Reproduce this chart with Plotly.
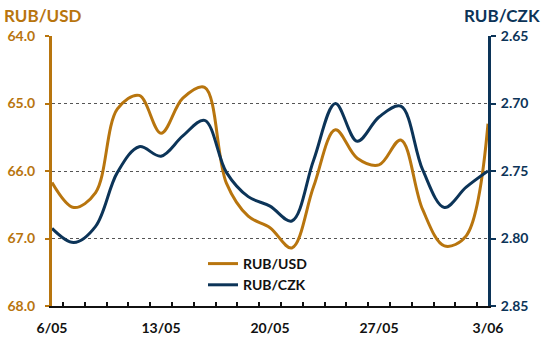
import plotly.graph_objects as go

# Daily fixings, 6 May - 3 June (business days)
days = list(range(21))
tick_positions = [0, 5, 10, 15, 20]
tick_labels = ["6/05", "13/05", "20/05", "27/05", "3/06"]

rub_usd = [66.17, 66.54, 66.32, 65.08, 64.88, 65.44, 64.92, 64.76, 66.18, 66.67, 66.84,
           67.14, 66.23, 65.39, 65.81, 65.91, 65.54, 66.57, 67.11, 66.96, 65.30]
rub_czk = [2.7925, 2.803, 2.791, 2.751, 2.732, 2.739, 2.724, 2.7125, 2.751, 2.769, 2.776,
           2.787, 2.742, 2.700, 2.728, 2.710, 2.702, 2.749, 2.777, 2.762, 2.750]

GOLD = "#B8750E"
NAVY = "#0C3458"
FONT = "Lato"

fig = go.Figure()
fig.add_trace(go.Scatter(
    x=days, y=rub_usd, name="RUB/USD", mode="lines",
    line=dict(color=GOLD, width=3, shape="spline", smoothing=1.0),
    yaxis="y",
))
fig.add_trace(go.Scatter(
    x=days, y=rub_czk, name="RUB/CZK", mode="lines",
    line=dict(color=NAVY, width=3, shape="spline", smoothing=1.0),
    yaxis="y2",
))

fig.update_layout(
    width=543, height=340,
    margin=dict(l=52, r=55, t=36, b=34, autoexpand=False),
    paper_bgcolor="white", plot_bgcolor="white",
    font=dict(family=FONT, size=14, color="#111111", weight=700),
    showlegend=True,
    legend=dict(
        x=(203 - 52) / 436, y=(306 - 248) / 270, xanchor="left", yanchor="top",
        bgcolor="rgba(0,0,0,0)", font=dict(size=14, color="#111111", weight=700),
        tracegroupgap=0, itemwidth=30,
    ),
    xaxis=dict(
        range=[0, 20], tickvals=tick_positions, ticktext=tick_labels,
        ticks="", showgrid=False, zeroline=False, automargin=False,
        showline=True, linecolor="#111111", linewidth=2,
        tickfont=dict(size=14, color="#111111", weight=700),
        ticklabelstandoff=8,
        minor=dict(ticks="inside", tick0=0.5, dtick=1, ticklen=4,
                   tickwidth=2, tickcolor="#111111", showgrid=False),
    ),
    yaxis=dict(
        range=[68, 64], dtick=1, tickformat=".1f", automargin=False,
        showgrid=True, gridcolor="#555555", griddash="dot", gridwidth=1,
        zeroline=False, showline=True, linecolor=GOLD, linewidth=3,
        ticks="outside", ticklen=4, tickwidth=2, tickcolor=GOLD,
        tickfont=dict(size=14, color=GOLD, weight=700),
        ticklabelstandoff=7,
    ),
    yaxis2=dict(
        range=[2.85, 2.65], dtick=0.05, tickformat=".2f", automargin=False,
        overlaying="y", side="right", showgrid=False, zeroline=False,
        showline=True, linecolor=NAVY, linewidth=3,
        ticks="outside", ticklen=5, tickwidth=2, tickcolor=NAVY,
        tickfont=dict(size=14, color=NAVY, weight=700),
        ticklabelstandoff=2,
    ),
    annotations=[
        dict(text="RUB/USD", xref="paper", yref="paper",
             x=(2 - 52) / 436, y=(306 - 16) / 270, xanchor="left", yanchor="middle",
             showarrow=False, font=dict(size=17, color=GOLD, weight=700)),
        dict(text="RUB/CZK", xref="paper", yref="paper",
             x=(542 - 52) / 436, y=(306 - 16) / 270, xanchor="right", yanchor="middle",
             showarrow=False, font=dict(size=17, color=NAVY, weight=700)),
    ],
)

fig.write_html("out.html")
